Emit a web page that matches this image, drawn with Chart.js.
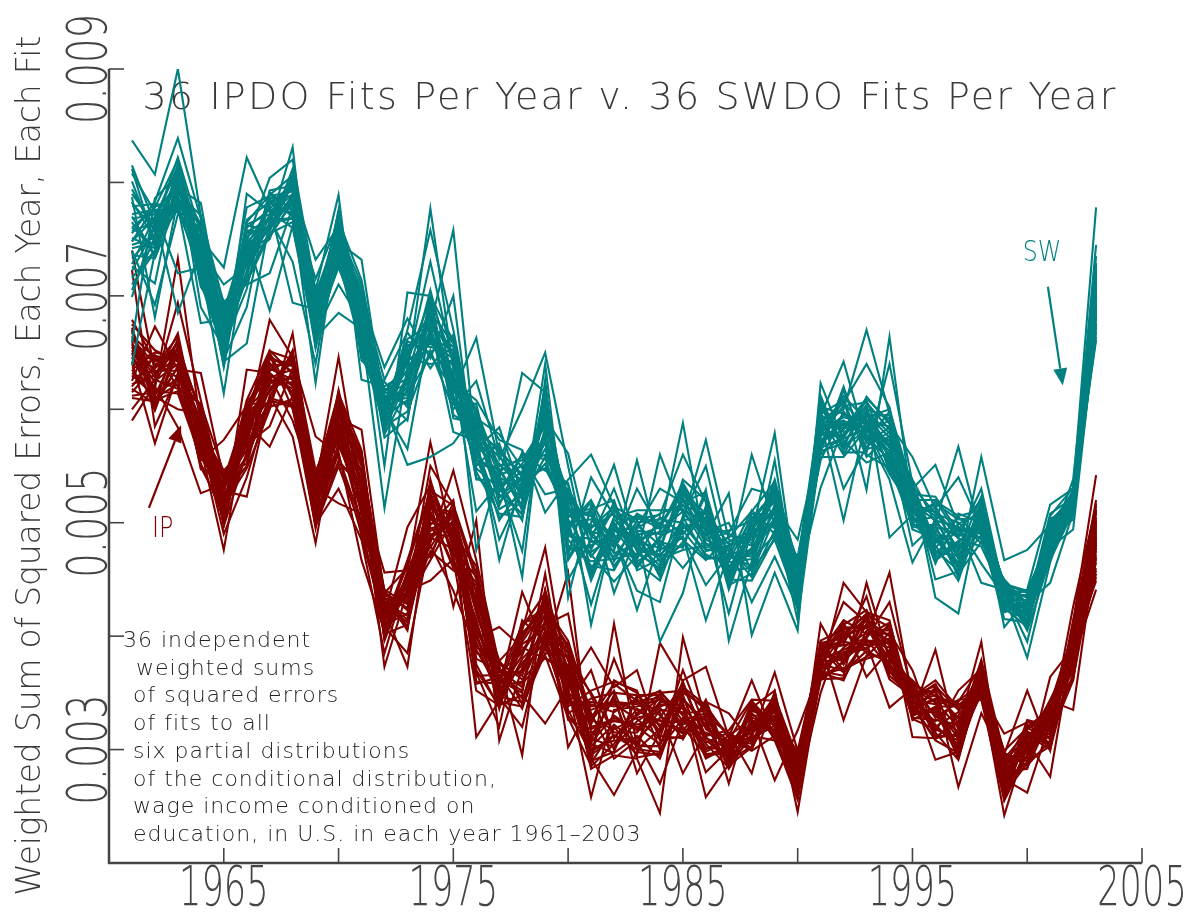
<!DOCTYPE html>
<html>
<head>
<meta charset="utf-8">
<title>36 IPDO Fits Per Year v. 36 SWDO Fits Per Year</title>
<script src="https://cdn.jsdelivr.net/npm/chart.js@4.4.0/dist/chart.umd.min.js"></script>
<style>
    html, body { margin: 0; padding: 0; background: #fff; }
    canvas { display: block; }
</style>
</head>
<body>
<canvas id="graficaAjustes" width="1194" height="918"></canvas>
<script>
// ======================
// DATOS (sumas ponderadas de errores al cuadrado, en unidades de 1e-5)
// una fila por año, 36 ajustes por fila
// ======================
const years = [1961, 1962, 1963, 1964, 1965, 1966, 1967, 1968, 1969, 1970,
    1971, 1972, 1973, 1974, 1975, 1976, 1977, 1978, 1979, 1980,
    1981, 1982, 1983, 1984, 1985, 1986, 1987, 1988, 1989, 1990,
    1991, 1992, 1993, 1994, 1995, 1996, 1997, 1998, 1999, 2000,
    2001, 2002, 2003];

const swFits = [
    [790,812,760,745,837,770,728,801,755,716,782,740,699,765,808,733,751,779,722,639,787,748,705,772,760,815,736,659,794,742,768,710,757,783,726,748],
    [762,745,778,751,807,736,770,748,783,740,758,692,766,735,774,755,742,781,760,738,681,769,752,776,744,763,733,786,757,747,772,739,765,750,711,779],
    [805,792,820,781,900,798,812,776,839,788,803,772,815,795,720,784,808,779,799,817,786,685,810,774,796,822,783,806,790,777,800,813,787,794,809,780],
    [728,760,742,715,770,750,735,722,768,745,708,757,738,782,725,748,733,676,762,718,752,740,710,765,730,755,744,720,771,736,763,690,726,747,712,758],
    [648,690,662,655,670,725,640,682,658,695,676,645,652,668,614,686,642,679,660,650,637,710,672,656,688,646,680,665,693,639,674,654,684,644,649,661],
    [752,735,765,718,740,822,758,728,747,710,731,790,722,762,744,755,658,738,715,767,750,726,742,706,733,760,720,778,712,748,737,756,745,690,763,729],
    [767,759,789,782,771,777,755,763,769,720,786,774,790,758,779,761,766,752,757,783,687,770,762,793,750,776,765,788,754,804,780,768,760,791,772,785],
    [800,785,806,772,790,795,765,831,803,778,788,760,775,812,694,798,769,783,807,793,762,780,787,797,805,774,768,792,782,820,799,730,789,776,802,770],
    [665,678,672,698,685,732,690,655,702,668,681,660,623,694,688,675,700,658,683,670,663,715,676,692,696,654,667,680,673,705,686,640,693,661,669,679],
    [743,767,725,753,739,761,769,747,757,710,774,733,764,744,750,737,729,770,742,760,685,766,776,755,748,735,727,762,772,789,745,758,768,731,752,740],
    [665,680,672,702,690,655,695,732,710,677,686,660,648,698,706,675,683,668,658,693,671,714,643,688,679,700,692,662,685,626,697,673,689,653,667,676],
    [601,589,614,595,609,585,550,599,593,618,575,605,596,626,612,586,580,603,592,617,513,608,624,590,583,602,597,610,578,620,637,606,615,594,600,588],
    [615,630,622,655,640,598,703,662,648,612,592,635,620,668,605,643,652,551,660,627,637,610,602,670,625,645,657,590,618,633,680,650,642,608,565,628],
    [693,667,686,663,730,652,700,674,678,648,695,665,684,636,690,658,672,558,650,705,662,680,688,758,670,640,655,702,692,777,645,685,698,668,675,660],
    [612,628,620,652,640,600,660,758,647,617,595,632,624,666,607,645,655,570,662,626,638,610,604,670,622,643,650,592,615,635,700,658,641,608,580,630],
    [571,510,550,582,596,625,577,562,538,590,583,566,608,548,555,578,570,598,476,592,585,552,605,568,575,540,560,588,663,600,545,580,595,565,572,558],
    [540,535,570,518,550,556,467,568,537,542,522,512,573,530,548,558,502,527,544,578,562,547,515,485,536,525,538,532,560,545,508,565,528,584,552,505],
    [529,475,510,539,555,600,538,520,502,550,541,524,564,507,515,536,531,560,452,548,543,512,562,528,533,508,632,545,522,558,505,540,552,525,530,518],
    [552,618,574,603,588,650,548,580,622,560,598,607,509,620,583,590,565,556,626,576,600,612,546,572,592,640,615,596,558,525,582,570,585,578,610,595],
    [503,450,478,512,523,550,509,490,467,527,515,494,538,476,485,507,500,533,434,520,513,480,535,498,561,470,505,517,492,530,472,510,525,495,502,488],
    [470,485,478,508,493,455,512,474,500,488,452,518,560,480,462,496,503,410,515,483,490,466,458,520,476,498,510,449,472,492,540,506,495,460,428,486],
    [495,470,512,482,462,505,520,488,551,475,500,466,515,490,458,508,478,497,438,485,510,468,503,480,518,492,460,498,448,487,506,473,514,483,494,530],
    [468,498,475,505,488,511,462,492,480,555,470,502,485,423,495,465,508,478,490,460,500,473,483,530,458,496,487,506,471,440,493,481,503,466,489,476],
    [505,480,458,495,470,511,488,452,500,475,560,465,492,483,508,449,497,472,395,486,503,460,478,494,468,530,455,499,484,430,490,462,507,476,496,470],
    [490,520,505,535,480,512,498,527,485,538,508,495,588,478,516,502,530,488,438,522,500,483,533,510,476,518,493,525,460,506,515,497,560,487,528,503],
    [512,485,470,500,525,478,495,508,467,520,490,505,475,529,482,573,498,414,515,488,472,510,493,503,480,527,468,497,486,550,508,476,518,445,492,501],
    [452,475,466,490,445,483,470,458,488,461,493,450,479,396,468,485,455,473,441,526,462,481,448,476,487,457,470,420,491,465,453,480,444,472,500,460],
    [498,470,505,482,455,493,511,460,487,475,502,449,490,466,560,480,508,458,496,401,473,485,500,452,510,478,462,494,530,468,489,430,504,476,457,492],
    [510,528,495,538,505,520,490,533,512,500,525,487,579,515,498,535,507,485,522,456,530,502,518,493,536,509,555,497,524,489,513,470,527,504,516,499],
    [440,452,432,460,445,428,465,437,455,448,423,462,435,485,450,442,458,430,467,405,447,438,456,426,463,444,433,470,451,439,459,425,446,414,453,436],
    [585,563,589,571,612,579,602,566,594,531,586,558,596,574,582,605,562,590,570,623,578,600,555,592,568,584,608,576,598,560,588,572,603,565,595,580],
    [590,570,605,582,562,612,596,575,642,585,600,558,608,578,593,566,617,502,588,572,603,580,598,560,610,586,568,595,530,577,606,590,564,620,583,574],
    [575,598,585,610,562,590,580,604,570,595,670,583,558,600,588,611,565,593,578,553,606,586,572,596,529,602,581,591,567,608,640,577,594,560,589,584],
    [556,579,563,589,640,550,573,487,584,568,596,543,577,592,558,587,570,600,538,562,582,552,598,575,664,545,590,566,580,555,602,572,595,548,585,560],
    [515,502,528,510,535,498,520,507,532,494,525,512,538,505,518,558,500,530,465,516,508,522,496,534,511,527,503,519,536,499,513,480,524,506,529,517],
    [490,505,472,515,482,498,520,468,508,486,523,476,500,494,464,512,480,551,503,470,517,488,496,434,510,478,492,506,467,519,485,499,474,513,450,502],
    [478,462,495,470,505,452,488,482,500,465,492,458,567,474,508,486,449,497,468,484,503,460,490,420,476,499,455,493,480,506,463,487,471,540,457,496],
    [502,515,490,510,485,520,497,506,482,518,494,512,488,523,500,479,508,447,514,492,504,558,487,516,498,509,483,521,495,511,489,530,503,496,517,464],
    [443,431,415,446,437,425,441,429,450,433,423,444,439,427,448,436,408,441,430,446,434,467,421,443,437,426,449,440,432,445,424,438,447,428,442,435],
    [420,432,412,438,425,408,435,418,428,441,415,430,406,437,422,381,433,411,426,440,417,476,429,409,436,421,413,439,424,405,431,395,427,414,434,419],
    [491,481,503,475,494,486,467,499,479,516,489,474,504,482,492,465,496,478,508,487,470,498,447,493,483,506,476,488,500,468,490,480,502,472,495,485],
    [518,524,512,528,515,521,510,526,519,530,513,523,508,538,517,527,511,494,522,529,514,520,509,525,516,531,512,503,523,518,526,515,521,510,528,519],
    [700,715,688,725,672,705,692,720,680,778,698,710,668,727,685,745,702,676,718,690,708,664,722,694,712,682,729,696,674,716,687,706,661,719,699,735]
];

const ipFits = [
    [645,630,662,618,740,652,638,670,625,658,612,648,675,635,590,665,642,622,655,679,632,660,615,668,640,600,650,628,672,636,723,657,620,646,664,610],
    [625,612,640,605,632,618,648,600,673,628,615,636,652,608,622,645,570,630,610,642,620,603,638,614,650,626,599,634,611,644,585,623,647,616,631,607],
    [640,655,628,662,645,733,620,650,635,667,625,658,642,616,694,648,632,660,622,652,584,638,664,627,646,618,656,634,600,649,630,661,643,614,653,637],
    [590,558,603,575,547,585,562,600,632,570,552,595,580,566,608,549,588,572,560,598,526,583,555,592,568,605,577,550,596,563,586,574,601,557,581,569],
    [512,535,498,526,543,508,520,497,538,515,505,530,546,476,522,510,540,500,528,518,534,503,573,525,513,544,507,531,499,521,537,490,516,529,509,541],
    [596,570,585,605,552,590,578,562,600,548,635,583,567,593,557,607,575,588,523,598,564,580,603,550,592,572,586,558,601,569,595,540,582,608,561,577],
    [615,640,628,605,650,622,636,610,645,600,632,679,618,648,607,626,639,567,612,651,624,603,644,630,616,647,608,634,620,585,641,611,629,652,602,637],
    [648,620,635,652,610,642,626,604,638,667,615,646,630,600,650,622,639,612,576,644,628,606,640,618,651,633,602,645,624,636,614,649,590,631,609,643],
    [505,528,540,512,498,535,520,544,508,525,495,576,532,515,546,502,538,518,482,530,510,543,500,527,516,541,497,522,536,507,545,513,529,499,533,520],
    [570,598,612,580,555,605,588,548,615,575,592,560,646,600,583,566,610,552,595,517,585,607,562,590,577,614,550,603,572,596,558,617,580,530,601,568],
    [540,512,555,498,530,562,520,548,505,538,582,490,525,558,515,545,487,535,560,508,527,552,467,533,518,564,495,543,510,550,500,528,546,485,537,522],
    [425,410,438,402,430,418,441,406,428,398,435,415,456,422,400,437,412,427,396,433,419,440,404,373,429,414,436,409,424,399,439,416,431,385,421,408],
    [445,420,460,410,438,452,428,465,415,448,405,435,458,373,442,425,467,412,450,432,496,408,455,440,418,462,430,447,413,457,423,444,407,453,436,385],
    [500,525,478,535,510,488,530,470,518,495,538,482,571,512,505,475,528,490,520,467,533,498,515,449,485,526,508,472,536,493,522,480,513,503,550,487],
    [495,470,512,485,462,505,490,518,475,500,465,546,482,510,497,458,515,488,426,503,478,520,493,468,508,486,460,513,480,498,472,440,506,491,516,477],
    [420,395,450,370,435,405,462,385,440,358,415,467,398,428,360,445,380,410,502,365,452,390,425,352,438,400,458,375,412,311,447,388,430,368,455,403],
    [360,345,372,338,355,368,342,378,350,364,336,375,408,347,358,340,370,353,308,366,344,377,356,339,362,349,374,337,359,343,369,352,379,320,361,346],
    [370,395,345,408,360,385,338,400,375,352,414,365,390,342,405,380,355,439,372,336,398,362,388,348,410,377,295,393,358,403,368,383,340,412,350,320],
    [410,425,392,438,405,418,385,432,400,441,395,428,380,415,478,402,436,388,420,398,430,383,412,323,426,393,440,407,381,422,397,434,390,417,455,404],
    [420,356,394,332,368,346,383,302,366,338,390,350,375,326,358,380,342,456,362,348,388,328,372,355,396,335,378,345,365,392,330,370,352,385,340,360],
    [315,330,295,345,305,322,288,340,310,352,298,335,283,318,390,300,342,292,326,308,348,286,320,258,332,296,350,312,285,328,303,338,290,325,370,306],
    [326,342,312,350,297,380,320,333,302,360,313,343,295,328,355,308,338,260,318,348,300,411,325,335,292,361,315,345,305,358,322,340,298,352,310,330],
    [320,340,300,348,312,330,295,345,325,352,305,335,292,318,370,310,342,298,328,279,346,303,322,338,308,350,315,293,332,343,306,327,348,300,336,317],
    [305,352,318,330,292,345,394,312,338,300,350,322,244,340,308,328,346,295,333,315,351,303,326,344,270,320,337,297,349,316,335,310,348,298,325,342],
    [340,325,355,315,348,332,360,310,345,328,352,318,399,336,312,358,322,342,279,350,330,361,314,338,326,356,309,344,320,353,333,370,317,347,324,339],
    [280,311,339,324,293,334,306,343,320,300,336,314,326,296,342,308,330,258,315,338,302,373,322,292,332,312,344,325,295,335,305,318,340,298,328,310],
    [300,292,310,285,305,296,315,288,302,312,290,308,283,298,332,294,314,287,306,270,299,311,286,303,293,317,289,307,297,313,284,304,291,309,295,301],
    [319,337,299,324,311,334,301,339,317,327,303,343,314,332,306,336,279,325,308,340,318,361,302,330,312,344,310,322,338,300,328,315,342,305,335,320],
    [318,352,312,335,368,328,344,309,333,273,348,320,337,313,342,325,351,316,339,323,347,311,336,329,308,343,321,330,315,345,322,338,310,350,326,340],
    [280,258,290,272,299,265,288,256,278,317,268,293,260,283,245,296,263,277,287,259,292,267,282,298,261,286,271,294,257,279,274,275,285,262,295,270],
    [382,364,395,375,388,361,383,369,391,372,386,365,394,379,367,389,350,384,374,393,366,411,380,362,387,370,396,376,390,363,381,373,392,368,385,378],
    [385,400,370,410,392,378,405,365,395,382,414,372,398,388,447,368,408,380,402,326,390,375,412,363,396,384,406,369,393,377,430,386,401,361,404,379],
    [395,408,382,423,398,410,388,447,392,418,402,380,414,397,421,387,407,394,419,383,403,411,364,399,417,389,409,396,435,400,412,390,420,405,385,416],
    [390,375,403,384,430,369,411,379,394,362,407,386,400,372,414,376,396,337,408,382,402,368,388,456,374,410,380,395,365,412,385,398,370,405,378,392],
    [355,337,370,329,350,343,311,356,334,347,327,353,339,359,331,346,336,354,326,349,341,357,333,344,342,335,352,330,348,338,358,328,345,340,361,332],
    [330,345,315,355,322,340,310,350,335,361,318,342,308,328,388,320,352,312,338,291,348,316,333,358,325,344,311,337,356,319,347,326,353,309,341,334],
    [316,339,291,323,301,343,314,327,293,336,308,320,297,342,306,333,267,312,338,298,328,352,302,318,344,292,325,310,335,305,340,322,295,330,300,315],
    [375,356,364,348,372,358,379,350,366,345,361,395,354,374,349,369,332,376,353,363,347,371,357,378,346,365,351,373,359,367,344,377,362,360,368,352],
    [275,268,288,260,280,272,295,263,284,270,299,258,290,277,314,266,292,274,242,286,261,296,279,256,289,269,283,262,297,271,255,287,276,293,265,281],
    [304,314,299,321,283,313,293,325,307,289,319,301,311,284,324,294,316,262,308,322,288,352,303,315,292,326,298,310,286,318,296,305,320,290,312,300],
    [344,306,332,320,364,300,340,316,276,334,310,342,305,328,319,337,302,324,343,309,331,299,339,314,327,321,318,330,308,338,322,312,335,303,326,315],
    [385,398,372,408,390,378,403,366,395,382,414,370,400,388,426,362,410,380,335,402,375,412,368,393,386,406,364,397,411,374,399,361,405,383,396,389],
    [488,494,482,511,449,503,472,517,497,452,508,483,492,458,515,470,502,441,478,510,455,542,487,498,465,520,480,495,460,505,475,490,512,468,500,485]
];

const xTickYears = [1965, 1970, 1975, 1980, 1985, 1990, 1995, 2000, 2005];
const xLabelYears = [1965, 1975, 1985, 1995, 2005];
const yTickValues = [300, 400, 500, 600, 700, 800, 900];
const yLabelValues = [300, 500, 700, 900];

const titulo = "36 IPDO Fits Per Year v. 36 SWDO Fits Per Year";
const tituloEjeY = "Weighted Sum of Squared Errors, Each Year, Each Fit";
const notaLineas = [
    "36 independent",
    "weighted sums",
    "of squared errors",
    "of fits to all",
    "six partial distributions",
    "of the conditional distribution,",
    "wage income conditioned on",
    "education, in U.S. in each year 1961\u20132003"
];

const SW_COLOR = "#008080";
const IP_COLOR = "#800000";
const INK = "#3c3c3c";
const FAMILIA = '"DejaVu Sans", sans-serif';

// ======================
// DATASETS
// ======================
function armarAjustes(filas, color, nombre, orden) {
    const sets = [];
    for (let k = 0; k < filas[0].length; k++) {
        sets.push({
            label: nombre + " " + (k + 1),
            data: years.map((yr, i) => ({ x: yr, y: filas[i][k] })),
            borderColor: color,
            borderWidth: 2.1,
            pointRadius: 0,
            fill: false,
            tension: 0,
            order: orden
        });
    }
    return sets;
}

// ======================
// TEXTO Y FLECHAS
// ======================
function texto(ctx, str, x, y, o) {
    ctx.save();
    ctx.translate(x, y);
    if (o.angle) ctx.rotate(o.angle);
    ctx.scale(o.sx || 1, 1);
    ctx.font = o.font;
    ctx.fillStyle = o.color || INK;
    ctx.textAlign = o.align || "left";
    ctx.textBaseline = "alphabetic";
    ctx.letterSpacing = o.spacing || "0px";
    ctx.fillText(str, 0, 0);
    ctx.restore();
}

function flecha(ctx, x0, y0, x1, y1, color) {
    const a = Math.atan2(y1 - y0, x1 - x0);
    const largo = 17, medio = 7;
    const c = Math.cos(a), s = Math.sin(a);
    ctx.save();
    ctx.strokeStyle = color;
    ctx.fillStyle = color;
    ctx.lineWidth = 2.2;
    ctx.beginPath();
    ctx.moveTo(x0, y0);
    ctx.lineTo(x1 - largo * c, y1 - largo * s);
    ctx.stroke();
    ctx.beginPath();
    ctx.moveTo(x1, y1);
    ctx.lineTo(x1 - largo * c + medio * s, y1 - largo * s - medio * c);
    ctx.lineTo(x1 - largo * c - medio * s, y1 - largo * s + medio * c);
    ctx.closePath();
    ctx.fill();
    ctx.restore();
}

const decoracion = {
    id: "decoracion",
    beforeDatasetsDraw(chart) {
        const ctx = chart.ctx;
        texto(ctx, titulo, 630, 109, { font: "200 38px " + FAMILIA, align: "center", spacing: "2.2px", color: "#3a3a3a" });
        notaLineas.forEach((linea, i) => {
            const x = i === 0 ? 123 : (i === 1 ? 136 : 133);
            texto(ctx, linea, x, 647 + i * 27.7, { font: "200 22px " + FAMILIA, spacing: "1px", color: "#222" });
        });
        texto(ctx, tituloEjeY, 40, 466, { font: "200 33px " + FAMILIA, align: "center", angle: -Math.PI / 2, spacing: "-0.2px", color: "#3a3a3a" });
    },
    afterDatasetsDraw(chart) {
        const ctx = chart.ctx;
        const xs = chart.scales.x, ys = chart.scales.y;
        const area = chart.chartArea;

        // ejes
        ctx.save();
        ctx.strokeStyle = "#444";
        ctx.lineWidth = 2.5;
        ctx.beginPath();
        ctx.moveTo(area.left, area.top);
        ctx.lineTo(area.left, area.bottom);
        ctx.lineTo(area.right, area.bottom);
        ctx.stroke();
        ctx.lineWidth = 1.6;
        yTickValues.forEach(v => {
            const py = ys.getPixelForValue(v);
            ctx.beginPath();
            ctx.moveTo(area.left, py);
            ctx.lineTo(area.left + 15, py);
            ctx.stroke();
        });
        xTickYears.forEach(yr => {
            const px = xs.getPixelForValue(yr);
            ctx.beginPath();
            ctx.moveTo(px, area.bottom);
            ctx.lineTo(px, area.bottom - 15);
            ctx.stroke();
        });
        ctx.restore();

        xLabelYears.forEach(yr => {
            texto(ctx, String(yr), xs.getPixelForValue(yr), area.bottom + 42,
                { font: "200 55px " + FAMILIA, align: "center", sx: 0.64, color: "#444" });
        });
        yLabelValues.forEach(v => {
            texto(ctx, (v / 100000).toFixed(3), area.left - 3, ys.getPixelForValue(v),
                { font: "200 55px " + FAMILIA, align: "center", sx: 0.7, angle: -Math.PI / 2, color: "#444" });
        });

        // etiquetas SW / IP con flechas
        texto(ctx, "SW", xs.getPixelForValue(1999.8), ys.getPixelForValue(731),
            { font: "200 28px " + FAMILIA, sx: 0.85, color: SW_COLOR });
        flecha(ctx, xs.getPixelForValue(2000.9), ys.getPixelForValue(708),
            xs.getPixelForValue(2001.55), ys.getPixelForValue(621), SW_COLOR);
        texto(ctx, "IP", xs.getPixelForValue(1961.87), ys.getPixelForValue(487),
            { font: "200 28px " + FAMILIA, sx: 0.85, color: IP_COLOR });
        flecha(ctx, xs.getPixelForValue(1961.74), ys.getPixelForValue(513),
            xs.getPixelForValue(1963.14), ys.getPixelForValue(586), IP_COLOR);
    }
};

// ======================
// GRÁFICA
// ======================
const ctxGrafica = document.getElementById("graficaAjustes").getContext("2d");
const chartAjustes = new Chart(ctxGrafica, {
    type: "line",
    data: {
        datasets: [
            ...armarAjustes(swFits, SW_COLOR, "SWDO", 0),
            ...armarAjustes(ipFits, IP_COLOR, "IPDO", 1)
        ]
    },
    options: {
        responsive: false,
        animation: false,
        devicePixelRatio: 1,
        events: [],
        layout: { padding: { left: 109, right: 52, top: 69, bottom: 55 } },
        scales: {
            x: { type: "linear", min: 1960, max: 2005, display: false },
            y: { type: "linear", min: 200, max: 900, display: false }
        },
        plugins: {
            legend: { display: false },
            tooltip: { enabled: false },
            title: { display: false }
        }
    },
    plugins: [decoracion]
});
</script>
</body>
</html>
